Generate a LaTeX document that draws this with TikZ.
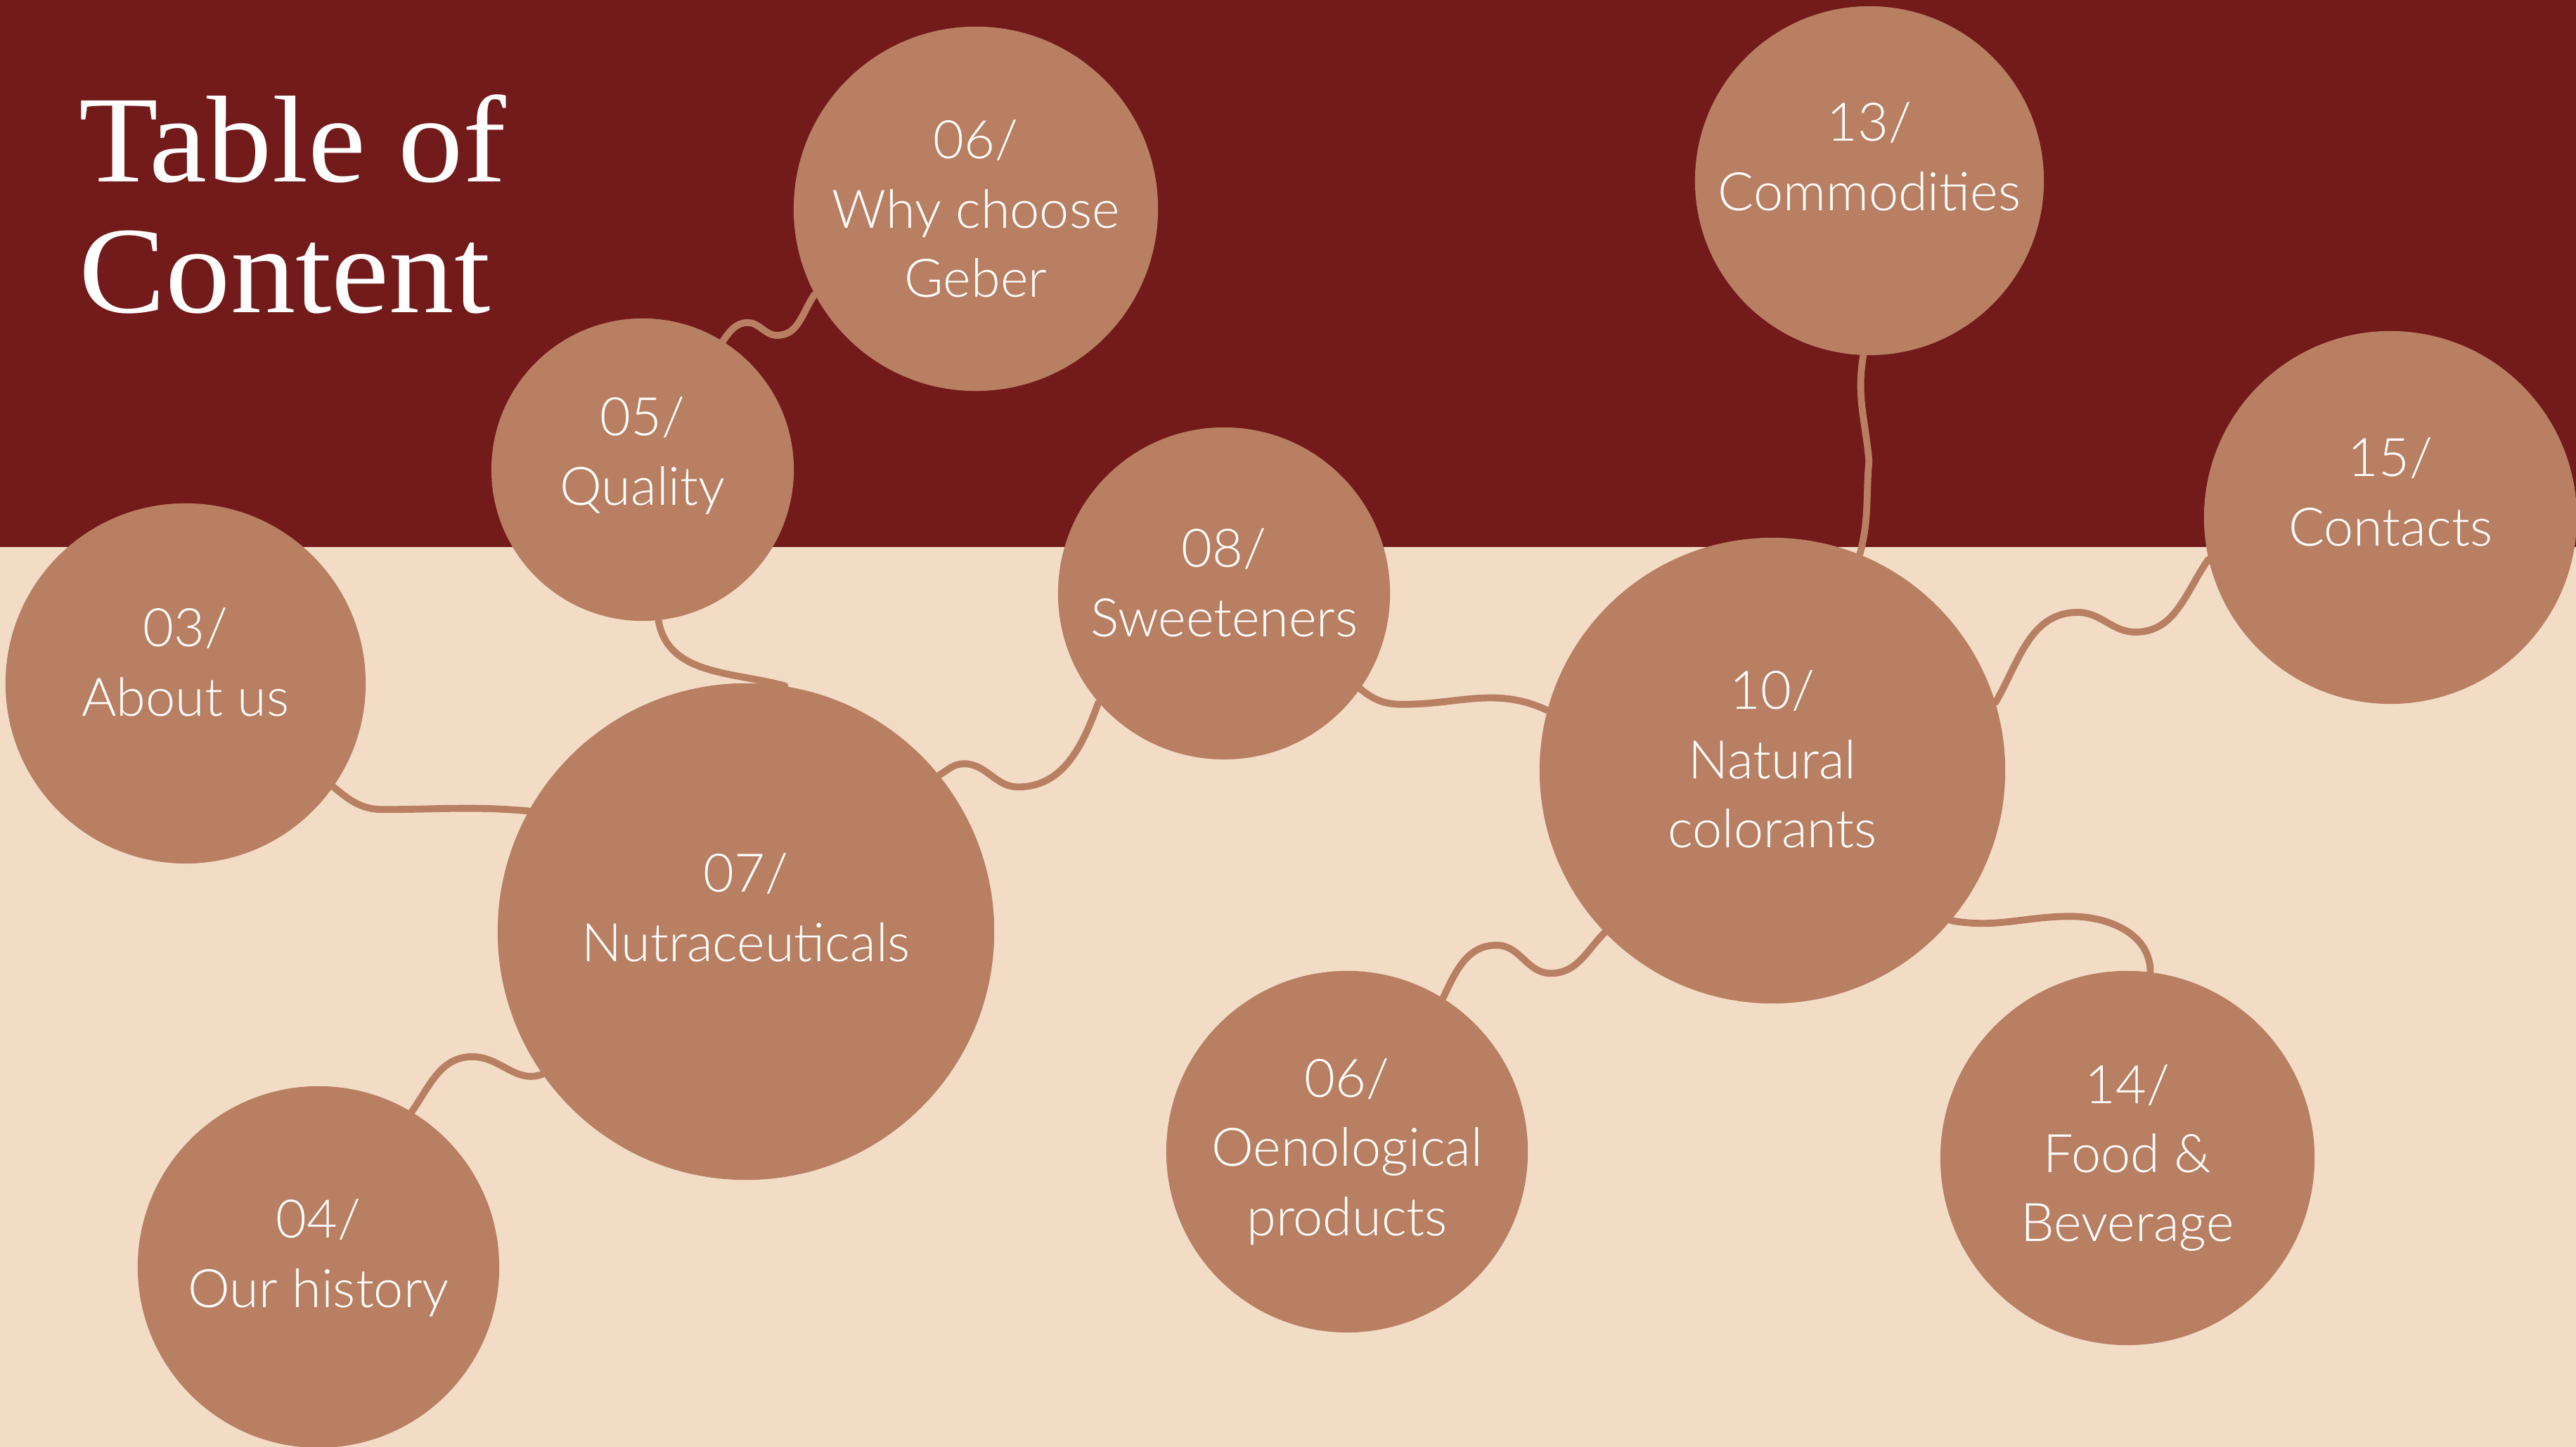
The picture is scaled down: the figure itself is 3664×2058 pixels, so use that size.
\documentclass[tikz,border=0pt]{standalone}
\usepackage{fontspec}
\setmainfont{Liberation Serif}
\newfontfamily\titlefont{Liberation Serif}[FakeStretch=1.05]
\newfontfamily\topicfont{Lato}[UprightFont=* Light]
\usepackage{tikz}
\usetikzlibrary{calc}

\definecolor{wine}{HTML}{731A1B}
\definecolor{sand}{HTML}{F2DCC6}
\definecolor{clay}{HTML}{B87F62}

\begin{document}
\begin{tikzpicture}[x=0.01cm,y=0.01cm]
  \tikzstyle{topic}=[circle,fill=clay,inner sep=0pt]
  \tikzstyle{caption}=[text=white,align=center,inner sep=0pt,
                       font=\topicfont\fontsize{21.5}{28}\selectfont]
  \tikzstyle{heading}=[text=white,inner sep=0pt,anchor=base west,
                       font=\titlefont\fontsize{50}{53}\selectfont]
  \tikzstyle{link}=[draw=clay,line width=2.8pt,line cap=round]

  \useasboundingbox (0,0) rectangle (3664,2058);
  \fill[sand] (0,0) rectangle (3664,1280);
  \fill[wine] (0,1280) rectangle (3664,2058);

  \node[heading] (title1) at (112,1799) {Table of};
  \node[heading] (title2) at (112,1613) {Content};

  % circles
  \node[topic,minimum size=5.18cm] (why)      at (1388,1761) {};
  \node[topic,minimum size=4.30cm] (quality)  at (914,1390)  {};
  \node[topic,minimum size=5.12cm] (about)    at (264,1086)  {};
  \node[topic,minimum size=7.06cm] (nutra)    at (1061,733)  {};
  \node[topic,minimum size=5.14cm] (history)  at (453,256)   {};
  \node[topic,minimum size=4.72cm] (sweet)    at (1741,1214) {};
  \node[topic,minimum size=4.96cm] (commod)   at (2659,1801) {};
  \node[topic,minimum size=6.62cm] (natural)  at (2521,962)  {};
  \node[topic,minimum size=5.30cm] (contacts) at (3400,1322) {};
  \node[topic,minimum size=5.14cm] (oeno)     at (1916,420)  {};
  \node[topic,minimum size=5.32cm] (food)     at (3026,411)  {};

  % captions
  \node[caption] (why-t)      at (why)                    {06/\\Why choose\\Geber};
  \node[caption] (quality-t)  at ($(quality)+(0,20)$)     {05/\\Quality};
  \node[caption] (about-t)    at ($(about)+(0,30)$)       {03/\\About us};
  \node[caption] (nutra-t)    at ($(nutra)+(0,34)$)       {07/\\Nutraceuticals};
  \node[caption] (history-t)  at ($(history)+(0,13)$)     {04/\\Our history};
  \node[caption] (sweet-t)    at ($(sweet)+(0,15)$)       {08/\\Sweeteners};
  \node[caption] (commod-t)   at ($(commod)+(0,34)$)      {13/\\Commodities};
  \node[caption] (natural-t)  at ($(natural)+(0,16)$)     {10/\\Natural\\colorants};
  \node[caption] (contacts-t) at ($(contacts)+(0,36)$)    {15/\\Contacts};
  \node[caption] (oeno-t)     at (oeno)                   {06/\\Oenological\\products};
  \node[caption] (food-t)     at (food)                   {14/\\Food \&\\Beverage};

  % connectors
  \path[link] (quality.58) to[out=55,in=180] ++(35,26) to[out=0,in=180] ++(42,-18)
              to[out=0,in=235] (why.208);
  \path[link] (quality.276) to[out=-80,in=165] (nutra.81);
  \path[link] (about.-35) to[out=-40,in=180] ++(70,-32) to[out=0,in=175] (nutra.151);
  \path[link] (history.59) to[out=55,in=180] ++(86,78) to[out=0,in=200] (nutra.215);
  \path[link] (nutra.39) to[out=30,in=180] ++(35,16) to[out=0,in=180] ++(77,-33)
              to[out=0,in=250] (sweet.221);
  \path[link] (sweet.-35) to[out=-40,in=180] ++(60,-22) to[out=0,in=155] (natural.165);
  \path[link] (commod.-92) to[out=-100,in=95] ++(8,-150) to[out=-95,in=75] (natural.68);
  \path[link] (natural.17) to[out=60,in=180] ++(117,128) to[out=0,in=180] ++(82,-28)
              to[out=0,in=235] (contacts.193);
  \path[link] (oeno.58) to[out=65,in=180] ++(76,75) to[out=0,in=180] ++(77,-40)
              to[out=0,in=225] (natural.224);
  \path[link] (natural.-40) to[out=-10,in=180] ++(170,6) to[out=0,in=90] (food.83);
\end{tikzpicture}
\end{document}
